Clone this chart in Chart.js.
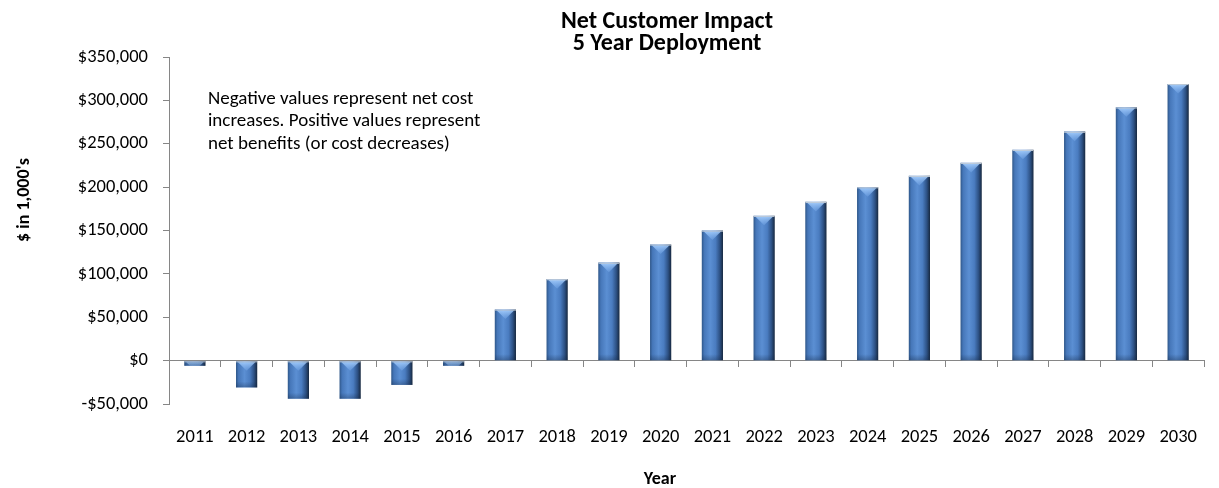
<!DOCTYPE html>
<html>
<head>
<meta charset="utf-8">
<script src="https://cdn.jsdelivr.net/npm/chart.js@4.4.1/dist/chart.umd.min.js"></script>
<style>
  html, body { margin: 0; padding: 0; background: #fff; }
  #wrap { width: 1219px; height: 488px; }
</style>
</head>
<body>
<div id="wrap"><canvas id="grafico"></canvas></div>
<script>
// Datos
const anios = ['2011', '2012', '2013', '2014', '2015', '2016', '2017', '2018', '2019', '2020',
  '2021', '2022', '2023', '2024', '2025', '2026', '2027', '2028', '2029', '2030'];
const impactoNeto = [-6000, -31000, -44000, -44000, -28000, -6000, 59000, 94000, 113000, 134000,
  150000, 167000, 183000, 200000, 213000, 228000, 243000, 264000, 292000, 319000];
const tituloLineas = ['Net Customer Impact', '5 Year Deployment'];
const notaLineas = ['Negative values represent net cost', 'increases. Positive values represent', 'net benefits (or cost decreases)'];

const FUENTE = 'Carlito, Lato, "Open Sans", sans-serif';
const GRIS_EJE = '#868686';

function formatoDolar(v) {
  const s = '$' + Math.abs(v).toLocaleString('en-US');
  return v < 0 ? '-' + s : s;
}

// degradado horizontal de cada barra (efecto bisel de Excel)
function degradado(c, l, r) {
  const g = c.createLinearGradient(l, 0, r, 0);
  g.addColorStop(0, '#2f5789');
  g.addColorStop(0.12, '#4677b9');
  g.addColorStop(0.4, '#5b8fd3');
  g.addColorStop(0.65, '#4a7cc0');
  g.addColorStop(0.85, '#2d5184');
  g.addColorStop(1, '#17283f');
  return g;
}

const biselPlugin = {
  id: 'bisel',
  beforeDatasetsDraw(chart) {
    chart.getDatasetMeta(0).data.forEach(bar => {
      const { x, width } = bar.getProps(['x', 'width'], true);
      if (isFinite(x) && isFinite(width)) {
        bar.options.backgroundColor = degradado(chart.ctx, x - width / 2, x + width / 2);
      }
    });
  },
  afterDatasetsDraw(chart) {
    const c = chart.ctx;
    chart.getDatasetMeta(0).data.forEach(bar => {
      const { x, y, base, width } = bar.getProps(['x', 'y', 'base', 'width'], true);
      const top = Math.min(y, base);
      const bottom = Math.max(y, base);
      const l = x - width / 2, r = x + width / 2;
      c.save();
      c.beginPath();
      c.rect(l, top, width, bottom - top);
      c.clip();
      // punta clara arriba
      const g = c.createLinearGradient(0, top, 0, top + width * 0.5);
      g.addColorStop(0, 'rgba(170,210,255,0.95)');
      g.addColorStop(1, 'rgba(120,170,235,0.3)');
      c.fillStyle = g;
      c.beginPath();
      c.moveTo(l + 2, top + 1);
      c.lineTo(r - 2, top + 1);
      c.lineTo(x, top + width * 0.45);
      c.closePath();
      c.fill();
      // borde superior gris claro
      c.fillStyle = 'rgba(200,210,220,0.9)';
      c.fillRect(l, top, width, 1.2);
      // banda oscura abajo
      const g2 = c.createLinearGradient(0, bottom - 6, 0, bottom);
      g2.addColorStop(0, 'rgba(20,40,70,0)');
      g2.addColorStop(1, 'rgba(20,40,70,0.35)');
      c.fillStyle = g2;
      c.fillRect(l, bottom - 6, width, 6);
      c.restore();
    });
  }
};

const textosPlugin = {
  id: 'textos',
  afterDraw(chart) {
    const c = chart.ctx;
    c.save();
    c.fillStyle = '#000';
    c.textBaseline = 'alphabetic';
    // título
    c.font = 'bold 24px ' + FUENTE;
    c.textAlign = 'center';
    c.fillText(tituloLineas[0], 667, 28);
    c.fillText(tituloLineas[1], 667, 50);
    // título eje X
    c.font = 'bold 18px ' + FUENTE;
    c.fillText('Year', 660, 484);
    // título eje Y
    c.save();
    c.translate(29, 200);
    c.rotate(-Math.PI / 2);
    c.fillText("$ in 1,000's", 0, 0);
    c.restore();
    // nota
    c.font = '19px ' + FUENTE;
    c.textAlign = 'left';
    notaLineas.forEach((t, i) => c.fillText(t, 208, 104 + i * 22.4));
    c.restore();
  }
};

const ctx = document.getElementById('grafico').getContext('2d');
new Chart(ctx, {
  type: 'bar',
  data: {
    labels: anios,
    datasets: [{
      data: impactoNeto,
      backgroundColor: () => '#4a7bbf',
      borderWidth: 0,
      barPercentage: 0.41,
      categoryPercentage: 1.0
    }]
  },
  options: {
    responsive: true,
    maintainAspectRatio: false,
    animation: false,
    layout: { padding: { top: 57, right: 4, left: 0, bottom: 0 } },
    plugins: {
      legend: { display: false },
      tooltip: { enabled: false }
    },
    scales: {
      x: {
        position: { y: 0 },
        offset: true,
        grid: { offset: true, drawOnChartArea: false, drawTicks: true, tickLength: 6, color: GRIS_EJE },
        border: { display: true, color: GRIS_EJE, width: 1 },
        ticks: { display: false }
      },
      x2: {
        type: 'category',
        position: 'bottom',
        offset: true,
        grid: { display: false, drawTicks: false },
        border: { display: false },
        ticks: { color: '#000', font: { family: FUENTE, size: 18.5 }, padding: 22, maxRotation: 0, autoSkip: false },
        afterFit(scale) { scale.height = 84; }
      },
      y: {
        min: -50000,
        max: 350000,
        grid: { drawOnChartArea: false, drawTicks: true, tickLength: 6, color: GRIS_EJE },
        border: { display: true, color: GRIS_EJE, width: 1 },
        ticks: {
          stepSize: 50000,
          color: '#000',
          padding: 15,
          font: { family: FUENTE, size: 18.5 },
          callback: v => formatoDolar(v)
        },
        afterFit(scale) { scale.width = 169; }
      }
    }
  },
  plugins: [biselPlugin, textosPlugin]
});
</script>
</body>
</html>
